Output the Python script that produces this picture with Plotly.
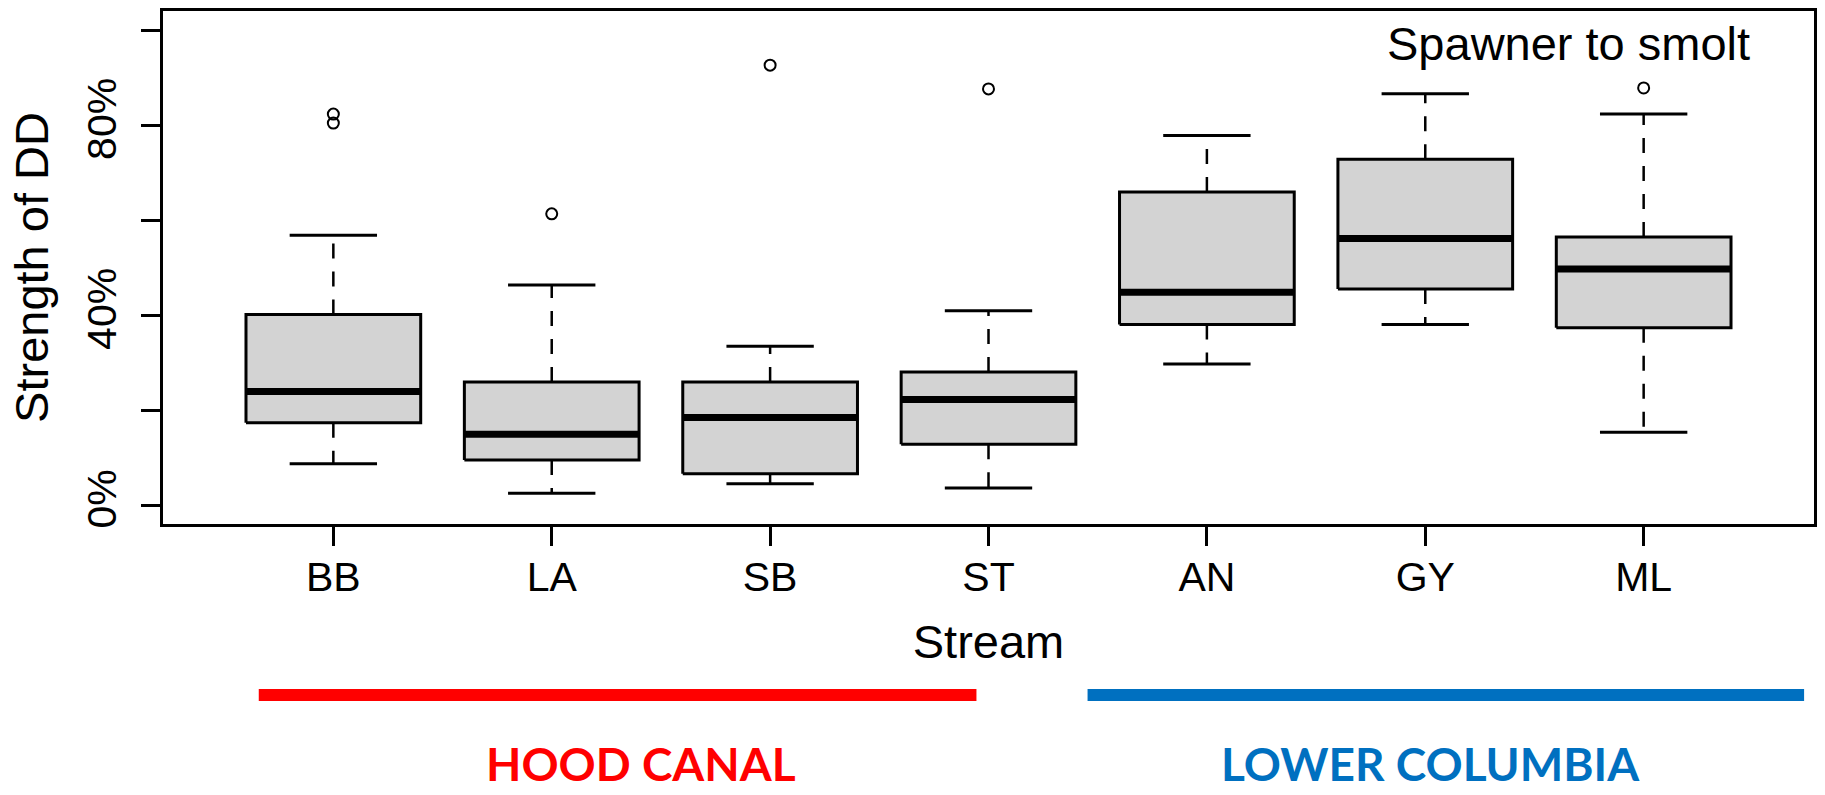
import plotly.graph_objects as go

# Density-dependence strength (%) by stream, spawner-to-smolt stage
streams = ["BB", "LA", "SB", "ST", "AN", "GY", "ML"]
lower_whisker = [8.7, 2.5, 4.5, 3.6, 29.7, 38.0, 15.3]
q1 = [17.3, 9.5, 6.6, 12.8, 38.0, 45.5, 37.3]
median = [23.9, 14.9, 18.4, 22.2, 44.8, 56.1, 49.7]
q3 = [40.1, 25.9, 25.9, 28.0, 65.9, 72.8, 56.4]
upper_whisker = [56.8, 46.3, 33.4, 40.9, 77.8, 86.6, 82.3]
outliers = [[82.3, 80.4], [61.3], [92.6], [87.6], [], [], [87.8]]

y_tick_vals = [0, 20, 40, 60, 80, 100]
y_tick_text = ["0%", "", "40%", "", "80%", ""]

regions = ["HOOD CANAL", "LOWER COLUMBIA"]
region_colors = ["#FF0000", "#0070C0"]

FONT = "Liberation Sans, Arial, Helvetica, sans-serif"
BOX_HALF = 0.4
CAP_HALF = 0.2

xpos = list(range(1, len(streams) + 1))

box_x, box_y = [], []
med_x, med_y = [], []
wh_x, wh_y = [], []
cap_x, cap_y = [], []
out_x, out_y = [], []
for x, lo, a, m, b, hi, outs in zip(xpos, lower_whisker, q1, median, q3,
                                    upper_whisker, outliers):
    box_x += [x - BOX_HALF, x + BOX_HALF, x + BOX_HALF, x - BOX_HALF, x - BOX_HALF, None]
    box_y += [a, a, b, b, a, None]
    med_x += [x - BOX_HALF, x + BOX_HALF, None]
    med_y += [m, m, None]
    wh_x += [x, x, None, x, x, None]
    wh_y += [b, hi, None, a, lo, None]
    cap_x += [x - CAP_HALF, x + CAP_HALF, None, x - CAP_HALF, x + CAP_HALF, None]
    cap_y += [hi, hi, None, lo, lo, None]
    for o in outs:
        out_x.append(x)
        out_y.append(o)

fig = go.Figure()
fig.add_trace(go.Scatter(x=wh_x, y=wh_y, mode="lines",
                         line=dict(color="black", width=2.5, dash="15px,13px"),
                         hoverinfo="skip"))
fig.add_trace(go.Scatter(x=cap_x, y=cap_y, mode="lines",
                         line=dict(color="black", width=3), hoverinfo="skip"))
fig.add_trace(go.Scatter(x=box_x, y=box_y, mode="lines", fill="toself",
                         fillcolor="#D3D3D3", line=dict(color="black", width=3),
                         hoverinfo="skip"))
fig.add_trace(go.Scatter(x=med_x, y=med_y, mode="lines",
                         line=dict(color="black", width=7), hoverinfo="skip"))
fig.add_trace(go.Scatter(x=out_x, y=out_y, mode="markers",
                         marker=dict(symbol="circle-open", size=11, color="black",
                                     line=dict(width=2)),
                         hoverinfo="skip"))

fig.update_layout(
    width=1825, height=795,
    margin=dict(l=163, r=10, t=8, b=271),
    paper_bgcolor="white", plot_bgcolor="white",
    showlegend=False,
    font=dict(family=FONT, color="black"),
    xaxis=dict(
        range=[0.22, 7.78], tickvals=xpos, ticktext=streams,
        showgrid=False, zeroline=False,
        showline=True, mirror=True, linecolor="black", linewidth=3,
        ticks="outside", ticklen=19, tickwidth=2.5, tickcolor="black",
        tickfont=dict(size=41, family=FONT), ticklabelstandoff=-4,
        title=dict(text="Stream", font=dict(size=47, family=FONT), standoff=26),
    ),
    yaxis=dict(
        range=[-4, 104], tickvals=y_tick_vals, ticktext=y_tick_text,
        showgrid=False, zeroline=False,
        showline=True, mirror=True, linecolor="black", linewidth=3,
        ticks="outside", ticklen=19, tickwidth=2.5, tickcolor="black",
        tickangle=-90, tickfont=dict(size=41, family=FONT), ticklabelstandoff=9,
        title=dict(text="Strength of DD", font=dict(size=47, family=FONT), standoff=16),
    ),
)

fig.add_annotation(text="Spawner to smolt", xref="paper", yref="paper",
                   x=0.9625, y=1.0, xanchor="right", yanchor="top", yshift=-4,
                   showarrow=False, font=dict(size=47, family=FONT, color="black"))

# Region brackets beneath the stream axis
region_spans = [(0.058, 0.4927), (0.560, 0.994)]
region_label_x = [0.2894, 0.768]
for name, color, (x0, x1), lx in zip(regions, region_colors, region_spans, region_label_x):
    fig.add_shape(type="line", xref="paper", yref="paper", x0=x0, x1=x1,
                  y0=-0.3333, y1=-0.3333, line=dict(color=color, width=12))
    fig.add_annotation(text="<b>" + name + "</b>", xref="paper", yref="paper",
                       x=lx, y=-0.525, xanchor="center", yanchor="bottom",
                       showarrow=False,
                       font=dict(size=46, family="Lato, sans-serif", color=color))

fig.write_html("out.html")
